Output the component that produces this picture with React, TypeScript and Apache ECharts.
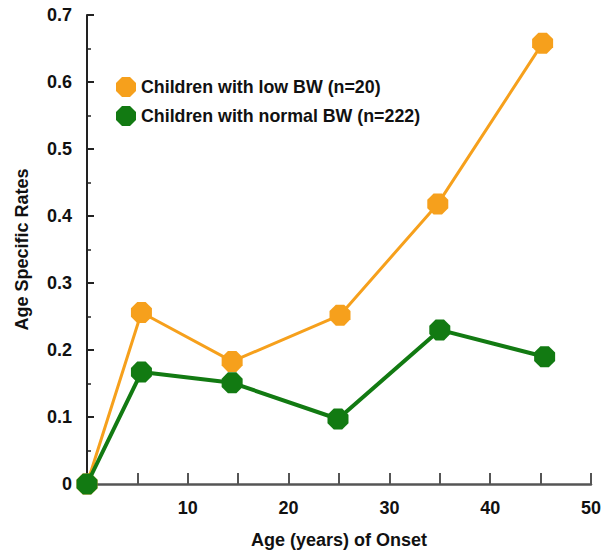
import React, { useEffect, useRef } from "react";
import * as echarts from "echarts";

const lowBwAge = [0, 5.4, 14.4, 25.1, 34.8, 45.2];
const lowBwRate = [0, 0.256, 0.183, 0.252, 0.418, 0.658];
const normalBwAge = [0, 5.4, 14.4, 24.9, 35.0, 45.4];
const normalBwRate = [0, 0.167, 0.151, 0.097, 0.23, 0.19];
const seriesNames = ["Children with low BW (n=20)", "Children with normal BW (n=222)"];

const octagon = "path://M30,0 L70,0 L100,30 L100,70 L70,100 L30,100 L0,70 L0,30 Z";
const FONT = "Liberation Sans, Arial, Helvetica, sans-serif";

export default function App() {
  const ref = useRef<HTMLDivElement>(null);
  useEffect(() => {
    const chart = echarts.init(ref.current!, null, { renderer: "svg" });
    chart.setOption({
      animation: false,
      backgroundColor: "#ffffff",
      grid: { left: 87, right: 24, top: 15, bottom: 68, containLabel: false, outerBoundsMode: "none" },
      legend: {
        left: 111,
        top: 72,
        orient: "vertical",
        itemGap: 9,
        itemWidth: 20,
        itemHeight: 20,
        textStyle: { fontFamily: FONT, fontWeight: "bold", fontSize: 17.8, color: "#111" },
        data: [
          { name: seriesNames[0], icon: octagon },
          { name: seriesNames[1], icon: octagon },
        ],
      },
      xAxis: {
        type: "value",
        min: 0,
        max: 50,
        interval: 10,
        name: "Age (years) of Onset",
        nameLocation: "middle",
        nameGap: 47,
        nameTextStyle: { fontFamily: FONT, fontWeight: "bold", fontSize: 18, color: "#111" },
        axisLine: { show: true, lineStyle: { color: "#555", width: 2.5 } },
        axisTick: { show: true, inside: true, length: 11, lineStyle: { color: "#555", width: 2 } },
        minorTick: { show: true, splitNumber: 2, length: 11, lineStyle: { color: "#555", width: 2 } },
        splitLine: { show: false },
        axisLabel: {
          margin: 15,
          fontFamily: FONT,
          fontWeight: "bold",
          fontSize: 18,
          color: "#111",
          formatter: (v: number) => (v === 0 ? "" : String(v)),
        },
      },
      yAxis: {
        type: "value",
        min: 0,
        max: 0.7,
        interval: 0.1,
        name: "Age Specific Rates",
        nameLocation: "middle",
        nameGap: 56,
        nameRotate: 90,
        nameTextStyle: { fontFamily: FONT, fontWeight: "bold", fontSize: 18, color: "#111" },
        axisLine: { show: true, lineStyle: { color: "#222", width: 2 } },
        axisTick: { show: true, inside: true, length: 7, lineStyle: { color: "#222", width: 2 } },
        minorTick: { show: true, splitNumber: 2, length: 4, lineStyle: { color: "#222", width: 1.5 } },
        splitLine: { show: false },
        axisLabel: {
          margin: 15,
          fontFamily: FONT,
          fontWeight: "bold",
          fontSize: 18,
          color: "#111",
          formatter: (v: number) => (v === 0 ? "0" : v.toFixed(1)),
        },
      },
      series: [
        {
          name: seriesNames[0],
          type: "line",
          data: lowBwAge.map((a, i) => [a, lowBwRate[i]]),
          symbol: octagon,
          symbolSize: 21,
          clip: false,
          itemStyle: { color: "#f6a01c" },
          lineStyle: { color: "#f6a01c", width: 3 },
          z: 2,
        },
        {
          name: seriesNames[1],
          type: "line",
          data: normalBwAge.map((a, i) => [a, normalBwRate[i]]),
          symbol: octagon,
          symbolSize: 21,
          clip: false,
          itemStyle: { color: "#127a12" },
          lineStyle: { color: "#127a12", width: 4 },
          z: 3,
        },
      ],
    });
    return () => chart.dispose();
  }, []);
  return <div ref={ref} style={{ position: "fixed", left: 0, top: 0, width: 615, height: 552 }} />;
}
